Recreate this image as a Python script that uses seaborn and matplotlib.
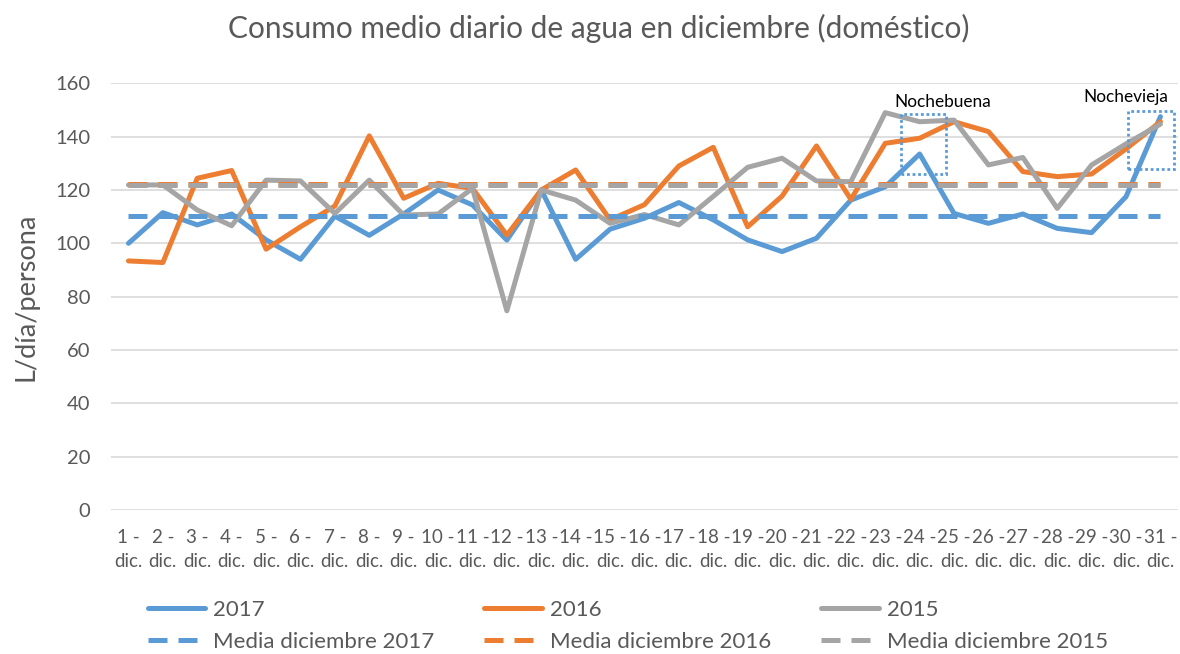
import pandas as pd
import matplotlib.pyplot as plt
from matplotlib.patches import Rectangle
import seaborn as sns

# Daily values (L/día/persona)
days = list(range(1, 32))
day_labels = [f'{d} -\ndic.' for d in days]

consumo_2017 = [100, 111.5, 106.9, 111, 101.3, 94, 110.2, 103, 111, 120, 114.4, 101.2, 120, 94, 105.3, 109.4,
                115.3, 108.8, 101.3, 96.9, 101.9, 116.2, 121.2, 133.5, 111.2, 107.5, 111, 105.6, 104, 117.5, 147.5]
consumo_2016 = [93.4, 92.8, 124.4, 127.3, 97.8, 106.2, 114, 140.3, 116.9, 122.5, 120.6, 103.1, 120, 127.5, 108.8, 114.5,
                129, 136, 106.2, 117.7, 136.5, 116.5, 137.5, 139.4, 145.6, 141.9, 126.9, 125, 126, 135.4, 145.6]
consumo_2015 = [121.9, 121.9, 112.5, 106.6, 123.7, 123.4, 111.2, 123.7, 110.6, 111, 120.6, 74.7, 120, 116.2, 107.5, 110.8,
                106.9, 117.6, 128.5, 131.9, 123.4, 123.1, 149, 145.6, 146.2, 129.4, 132.2, 113.1, 129.4, 137.3, 144.7]

media_2017 = 110.4
media_2016 = 122.3
media_2015 = 121.8

series = {
    '2017': consumo_2017,
    '2016': consumo_2016,
    '2015': consumo_2015,
    'Media diciembre 2017': [media_2017] * 31,
    'Media diciembre 2016': [media_2016] * 31,
    'Media diciembre 2015': [media_2015] * 31,
}
order = list(series.keys())

df = pd.concat([pd.DataFrame({'dia': days, 'valor': v, 'serie': k}) for k, v in series.items()])

blue, orange, grey = '#5B9BD5', '#ED7D31', '#A5A5A5'
palette = dict(zip(order, [blue, orange, grey, blue, orange, grey]))
dashes = dict(zip(order, ['', '', '', (3.8, 2.2), (3.8, 2.2), (3.8, 2.2)]))

sns.set_style('white')
plt.rcParams['font.family'] = ['Lato', 'DejaVu Sans']
text_col = '#595959'

fig = plt.figure(figsize=(11.8, 6.54), dpi=100)
ax = fig.add_axes([0.0943, 0.2202, 0.9037, 0.6524])

sns.lineplot(data=df, x='dia', y='valor', hue='serie', style='serie', hue_order=order, style_order=order,
             palette=palette, dashes=dashes, linewidth=3.6, ax=ax)

ax.set_xlim(0.5, 31.5)
ax.set_ylim(0, 160)
ax.set_yticks(range(0, 161, 20))
ax.set_xticks(days)
ax.set_xticklabels(day_labels, linespacing=1.5)
ax.yaxis.grid(True, color='#D9D9D9', linewidth=1.2)
ax.set_axisbelow(True)
for s in ax.spines.values():
    s.set_visible(False)
ax.tick_params(axis='y', labelsize=14.5, labelcolor=text_col, length=0, pad=15)
ax.tick_params(axis='x', labelsize=13.5, labelcolor=text_col, length=0, pad=14)
ax.set_xlabel('')
ax.set_ylabel('L/día/persona', fontsize=19.5, color=text_col, labelpad=12)

fig.text(0.507, 1 - 28 / 654, 'Consumo medio diario de agua en diciembre (doméstico)',
         ha='center', va='center', fontsize=21.5, color=text_col)

# dotted boxes around Nochebuena and Nochevieja
for x0, x1, y0, y1, label, tx, ty in [(23.45, 24.76, 126, 148.6, 'Nochebuena', 24.68, 152.9),
                                       (30.05, 31.4, 127.9, 149.7, 'Nochevieja', 30.0, 154.7)]:
    ax.add_patch(Rectangle((x0, y0), x1 - x0, y1 - y0, fill=False, edgecolor=blue,
                           linewidth=2, linestyle=(0, (1, 1)), zorder=5))
    ax.text(tx, ty, label, ha='center', va='center', fontsize=12.4, color='black')

handles, labels = ax.get_legend_handles_labels()
ax.legend_.remove()
idx = [0, 3, 1, 4, 2, 5]
fig.legend([handles[i] for i in idx], [labels[i] for i in idx], ncol=3, loc='upper left',
           bbox_to_anchor=(0.125, 0.083), frameon=False, fontsize=16, labelcolor=text_col,
           handlelength=2.6, handletextpad=0.35, columnspacing=2.25, borderpad=0, borderaxespad=0,
           labelspacing=0.55)

fig.savefig('out.png', dpi=100)
